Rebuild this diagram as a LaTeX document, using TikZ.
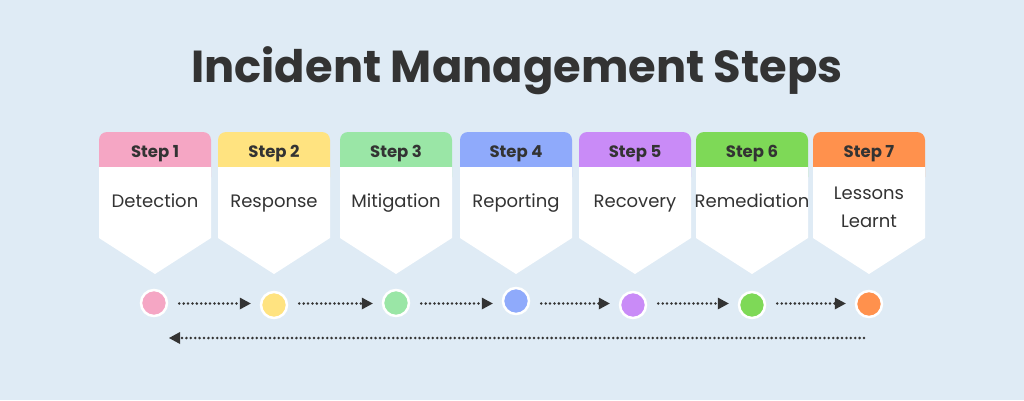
\documentclass[tikz,border=0pt]{standalone}
\usepackage{fontspec}
\setmainfont{Poppins}
\usetikzlibrary{arrows.meta}
\definecolor{bg}{HTML}{DFEBF5}
\definecolor{ink}{HTML}{333333}
\definecolor{c1}{HTML}{F5A6C4}
\definecolor{c2}{HTML}{FFE380}
\definecolor{c3}{HTML}{9AE6A6}
\definecolor{c4}{HTML}{8FAAFB}
\definecolor{c5}{HTML}{C98BF7}
\definecolor{c6}{HTML}{7ED957}
\definecolor{c7}{HTML}{FF914D}
\tikzset{
  steplabel/.style={font=\bfseries\fontsize{16.5}{18}\selectfont, text=ink, inner sep=0pt, anchor=base},
  cardtext/.style={font=\fontsize{18}{28}\selectfont, text=ink, align=center, inner sep=0pt},
  dotnode/.style={circle, draw=white, line width=2.5pt, minimum size=26pt, inner sep=0pt},
  flow/.style={ink, line width=2.8pt, line cap=round, dash pattern=on 0pt off 4.4pt, -{Triangle[length=11pt,width=12pt,line cap=butt,line width=0pt]}}
}
\begin{document}
\begin{tikzpicture}[x=1pt,y=-1pt]
\useasboundingbox[fill=bg] (0,0) rectangle (1024,400);
\node[font=\bfseries\fontsize{44.8}{50}\selectfont, text=ink, inner sep=0pt, anchor=base] (title) at (517,82) {Incident Management Steps};
% cards
\foreach \i/\xa/\col in {1/99/c1,2/218/c2,3/340/c3,4/460/c4,5/579/c5,6/696/c6,7/813/c7}{
  \pgfmathsetmacro{\xb}{\xa+112}
  \pgfmathsetmacro{\xc}{\xa+56}
  \fill[\col, rounded corners=8pt] (\xa,132) rectangle (\xb,185);
  \fill[white] (\xa,167) -- (\xa,238) -- (\xc,274) -- (\xb,238) -- (\xb,167) -- cycle;
  \node[steplabel] (s\i) at (\xc,157) {Step \i};
  \coordinate (m\i) at (\xc,207);
}
\foreach \i/\lab in {1/Detection,2/Response,3/Mitigation,4/Reporting,5/Recovery,6/Remediation}{
  \node[cardtext, anchor=base] (t\i) at (m\i) {\lab};
}
\node[cardtext] (t7) at (869,207) {Lessons\\Learnt};
% circles
\foreach \i/\x/\y in {1/154/303,2/274/305,3/396/303,4/516/301,5/633/305,6/752/305,7/869/304}{
  \node[dotnode, fill=c\i] (d\i) at (\x,\y) {};
}
\coordinate (row) at (0,303.5);
\foreach \a/\b in {1/2,2/3,3/4,4/5,5/6,6/7}{
  \draw[flow, shorten <=11pt, shorten >=9pt] (d\a.east |- row) -- (d\b.west |- row);
}
\coordinate (rs) at (864,338);
\coordinate (re) at (169,338);
\draw[flow] (rs) -- (re);
\end{tikzpicture}
\end{document}
